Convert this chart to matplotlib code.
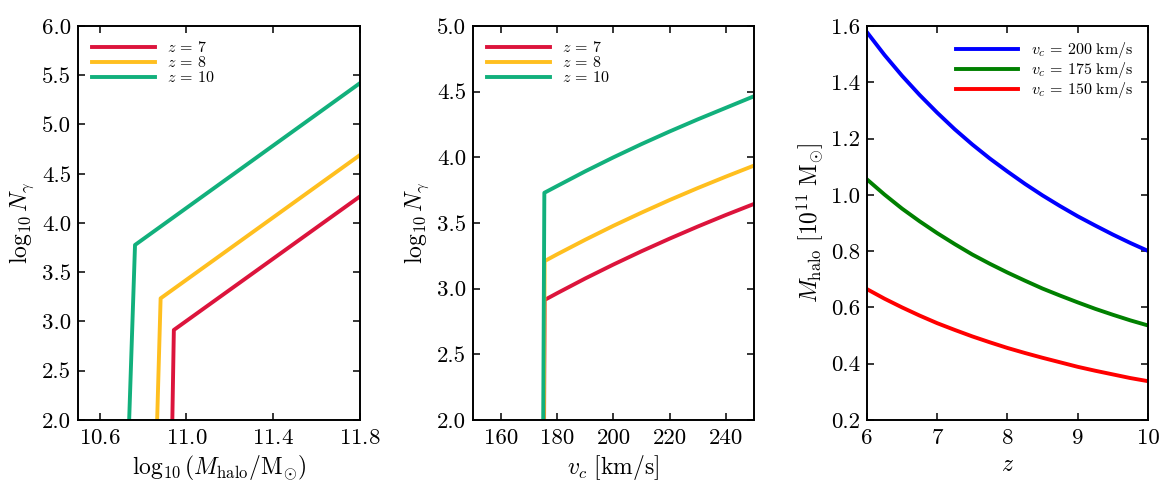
import matplotlib
matplotlib.use("Agg")
import matplotlib.pyplot as plt

plt.rcParams['font.family'] = 'serif'
plt.rcParams['font.serif'] = ['cmr10', 'DejaVu Serif']
plt.rcParams['mathtext.fontset'] = 'cm'
plt.rcParams['axes.formatter.use_mathtext'] = True
plt.rcParams['axes.linewidth'] = 1.4
plt.rcParams['xtick.direction'] = 'in'
plt.rcParams['ytick.direction'] = 'in'
plt.rcParams['xtick.top'] = True
plt.rcParams['ytick.right'] = True
plt.rcParams['xtick.major.size'] = 5
plt.rcParams['ytick.major.size'] = 5
plt.rcParams['xtick.major.width'] = 1.1
plt.rcParams['ytick.major.width'] = 1.1
plt.rcParams['xtick.major.pad'] = 6
plt.rcParams['ytick.major.pad'] = 5
plt.rcParams['xtick.labelsize'] = 16.5
plt.rcParams['ytick.labelsize'] = 16.5

# Panel 1: photon number vs halo mass
mass_z7 = [10.935, 10.942, 11.8]
ngam_mass_z7 = [2.0, 2.914, 4.27]
mass_z8 = [10.865, 10.881, 11.8]
ngam_mass_z8 = [2.0, 3.235, 4.69]
mass_z10 = [10.736, 10.763, 11.8]
ngam_mass_z10 = [2.0, 3.777, 5.42]

# Panel 2: photon number vs circular velocity
vc_z7 = [175.3, 175.5, 180, 190, 200, 210, 220, 230, 240, 250]
ngam_vc_z7 = [2.0, 2.914, 2.966, 3.078, 3.184, 3.285, 3.381, 3.473, 3.561, 3.645]
vc_z8 = [175.2, 175.5, 180, 190, 200, 210, 220, 230, 240, 250]
ngam_vc_z8 = [2.0, 3.210, 3.262, 3.373, 3.479, 3.579, 3.675, 3.766, 3.853, 3.937]
vc_z10 = [175.0, 175.4, 180, 190, 200, 210, 220, 230, 240, 250]
ngam_vc_z10 = [2.0, 3.730, 3.782, 3.894, 4.000, 4.101, 4.197, 4.289, 4.377, 4.465]

# Panel 3: halo mass vs redshift
redshift = [6, 6.25, 6.5, 6.75, 7, 7.25, 7.5, 7.75, 8, 8.25, 8.5, 8.75, 9, 9.25, 9.5, 9.75, 10]
mhalo_vc200 = [1.578, 1.497, 1.423, 1.355, 1.292, 1.233, 1.179, 1.129, 1.083, 1.039,
               0.998, 0.960, 0.924, 0.891, 0.859, 0.829, 0.801]
mhalo_vc175 = [1.055, 1.001, 0.951, 0.906, 0.864, 0.825, 0.788, 0.755, 0.724, 0.695,
               0.667, 0.642, 0.618, 0.595, 0.574, 0.554, 0.536]
mhalo_vc150 = [0.665, 0.631, 0.600, 0.571, 0.544, 0.520, 0.497, 0.476, 0.456, 0.438,
               0.421, 0.405, 0.389, 0.375, 0.362, 0.349, 0.338]

red = '#dc143c'
yellow = '#ffbf1f'
green = '#12b07c'
lw = 2.8

fig = plt.figure(figsize=(11.76, 5.01), dpi=100)
ax1 = fig.add_axes([0.0663, 0.1617, 0.2398, 0.7864])
ax2 = fig.add_axes([0.4022, 0.1617, 0.2389, 0.7864])
ax3 = fig.add_axes([0.7372, 0.1617, 0.2389, 0.7864])

leg_kw = dict(frameon=False, fontsize=11.5, handlelength=3.9, labelspacing=0.0,
              handletextpad=0.8, borderaxespad=0.5)

ax1.plot(mass_z7, ngam_mass_z7, color=red, lw=lw, label=r'$z\,=\,7$')
ax1.plot(mass_z8, ngam_mass_z8, color=yellow, lw=lw, label=r'$z\,=\,8$')
ax1.plot(mass_z10, ngam_mass_z10, color=green, lw=lw, label=r'$z\,=\,10$')
ax1.set_xlim(10.5, 11.8)
ax1.set_ylim(2.0, 6.0)
ax1.set_xticks([10.6, 11.0, 11.4, 11.8])
ax1.set_yticks([2.0, 2.5, 3.0, 3.5, 4.0, 4.5, 5.0, 5.5, 6.0])
ax1.set_xlabel(r'$\log_{10}\left(M_{\rm halo}/{\rm M}_{\odot}\right)$', fontsize=17)
ax1.set_ylabel(r'$\log_{10}N_{\gamma}$', fontsize=17)
ax1.legend(loc='upper left', **leg_kw)

ax2.plot(vc_z7, ngam_vc_z7, color=red, lw=lw, label=r'$z\,=\,7$')
ax2.plot(vc_z8, ngam_vc_z8, color=yellow, lw=lw, label=r'$z\,=\,8$')
ax2.plot(vc_z10, ngam_vc_z10, color=green, lw=lw, label=r'$z\,=\,10$')
ax2.set_xlim(150, 250)
ax2.set_ylim(2.0, 5.0)
ax2.set_xticks([160, 180, 200, 220, 240])
ax2.set_yticks([2.0, 2.5, 3.0, 3.5, 4.0, 4.5, 5.0])
ax2.set_xlabel(r'$v_c\ [{\rm km/s}]$', fontsize=17)
ax2.set_ylabel(r'$\log_{10}N_{\gamma}$', fontsize=17)
ax2.legend(loc='upper left', **leg_kw)

ax3.plot(redshift, mhalo_vc200, color='b', lw=lw, label=r'$v_c\,=\,200\ {\rm km/s}$')
ax3.plot(redshift, mhalo_vc175, color='g', lw=lw, label=r'$v_c\,=\,175\ {\rm km/s}$')
ax3.plot(redshift, mhalo_vc150, color='r', lw=lw, label=r'$v_c\,=\,150\ {\rm km/s}$')
ax3.set_xlim(6, 10)
ax3.set_ylim(0.2, 1.6)
ax3.set_xticks([6, 7, 8, 9, 10])
ax3.set_yticks([0.2, 0.4, 0.6, 0.8, 1.0, 1.2, 1.4, 1.6])
ax3.set_xlabel(r'$z$', fontsize=17)
ax3.set_ylabel(r'$M_{\rm halo}\ [10^{11}\ {\rm M}_{\odot}]$', fontsize=17)
ax3.legend(loc='upper right', **leg_kw)

for ax in (ax1, ax2, ax3):
    ax.yaxis.set_major_formatter(matplotlib.ticker.FormatStrFormatter('%.1f'))
ax3.xaxis.set_major_formatter(matplotlib.ticker.FormatStrFormatter('%d'))
ax2.xaxis.set_major_formatter(matplotlib.ticker.FormatStrFormatter('%d'))

plt.savefig('out.png', dpi=100)
